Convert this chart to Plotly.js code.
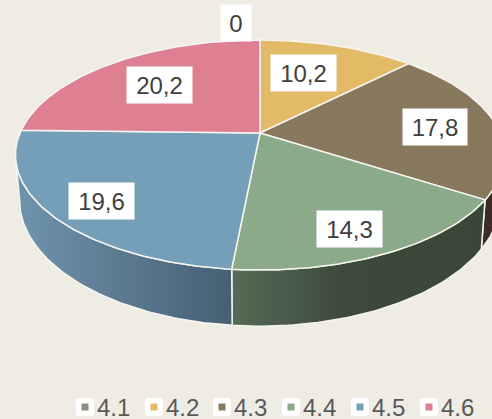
<!DOCTYPE html>
<html><head><meta charset="utf-8">
<script src="https://cdn.plot.ly/plotly-3.0.1.min.js"></script>
<style>html,body{margin:0;padding:0;background:#efece4;overflow:hidden}#c{width:492px;height:419px}</style>
</head><body><div id="c"></div>
<script>
// Data
const categories = ['4.1','4.2','4.3','4.4','4.5','4.6'];
const values = [0,10.2,17.8,14.3,19.6,20.2];
const faceColors = ['#8e8e83','#e3bb66','#88795e','#8aaa8a','#759eb8','#de8091'];

// Styling / layout settings
const sideGradients = {
  2:[[0,'#3a2e24'],[1,'#3a2e24']],
  3:[[0,'#566b56'],[0.45,'#3d493b'],[1,'#3a4638']],
  4:[[0,'#6f94ad'],[1,'#465f73']]
};
const labelBoxes = [[236,22.5,30],[303.5,73,65],[435,127,64],[349.5,229,65],[101.5,201,65],[159.5,85,65]];
const legendX = [76,145,213,282,351,420];
const topPlane = {cx:260,cy:133,A:240,B:110.8,k:0.191};
const botPlane = {cx:260,cy:176,A:236,B:121.5,k:0.191};
const silhouetteDeg = 259;
const edge = '#f6f5f0';
const fontFam = '"Liberation Sans", Arial, sans-serif';

const total = values.reduce((a,b)=>a+b,0);
function project(p,deg){
  const t=deg*Math.PI/180, X=Math.sin(t), Y=Math.cos(t), w=1+p.k*Y;
  return [p.cx+p.A*X/w, p.cy-p.B*Y/w];
}
function rim(p,a,b){
  const out=[], n=Math.max(2,Math.ceil(Math.abs(b-a)));
  for(let i=0;i<=n;i++) out.push(project(p,a+(b-a)*i/n));
  return out;
}
let starts=[],acc=0;
values.forEach(v=>{starts.push(acc);acc+=v/total*360;});
const traces=[];
// side walls
[2,3,4].forEach(i=>{
  const a=starts[i], b=Math.min(a+values[i]/total*360, i===4?silhouetteDeg:360);
  const pts=rim(topPlane,a,b).concat(rim(botPlane,b,a));
  pts.push(pts[0]);
  traces.push({type:'scatter',mode:'lines',x:pts.map(q=>q[0]),y:pts.map(q=>q[1]),fill:'toself',
    fillgradient:{type:'horizontal',colorscale:sideGradients[i]},
    line:{color:edge,width:1.5},hoverinfo:'skip',showlegend:false});
});
// top faces
values.forEach((v,i)=>{
  if(v<=0) return;
  const a=starts[i], b=a+v/total*360;
  const pts=[[topPlane.cx,topPlane.cy]].concat(rim(topPlane,a,b));
  pts.push(pts[0]);
  traces.push({type:'scatter',mode:'lines',name:categories[i],x:pts.map(q=>q[0]),y:pts.map(q=>q[1]),
    fill:'toself',fillcolor:faceColors[i],line:{color:edge,width:1.5},showlegend:false,
    text:String(v).replace('.',','),hoverinfo:'name+text'});
});
// legend swatches
categories.forEach((c,i)=>{
  traces.push({type:'scatter',mode:'markers',x:[legendX[i]+9],y:[407],name:c,
    marker:{symbol:'square',size:7,color:faceColors[i]},showlegend:false,hoverinfo:'name'});
});
const shapes=legendX.map(x=>{
  const x0=x,x1=x+18,y0=398,y1=416,r=3;
  return {type:'path',xref:'x',yref:'y',layer:'below',fillcolor:'#ffffff',line:{width:0},
    path:`M${x0+r},${y0}L${x1-r},${y0}Q${x1},${y0} ${x1},${y0+r}L${x1},${y1-r}Q${x1},${y1} ${x1-r},${y1}L${x0+r},${y1}Q${x0},${y1} ${x0},${y1-r}L${x0},${y0+r}Q${x0},${y0} ${x0+r},${y0}Z`};
});
const annotations=[];
values.forEach((v,i)=>{
  const b=labelBoxes[i];
  annotations.push({x:b[0],y:b[1],xref:'x',yref:'y',text:String(v).replace('.',','),showarrow:false,
    bgcolor:'#ffffff',width:b[2],height:36,borderpad:0,align:'center',valign:'middle',
    font:{family:fontFam,size:24,color:'#404040'}});
});
categories.forEach((c,i)=>{
  annotations.push({x:legendX[i]+20,y:407,xref:'x',yref:'y',xanchor:'left',yanchor:'middle',text:c,showarrow:false,
    height:22,valign:'middle',borderpad:0,font:{family:fontFam,size:24,color:'#595959'}});
});
Plotly.newPlot('c',traces,{
  width:492,height:419,margin:{l:0,r:0,t:0,b:0},
  paper_bgcolor:'#efece4',plot_bgcolor:'#efece4',showlegend:false,
  xaxis:{range:[0,492],visible:false,fixedrange:true},
  yaxis:{range:[419,0],visible:false,fixedrange:true},
  shapes,annotations
},{displayModeBar:false,staticPlot:true});
</script></body></html>
